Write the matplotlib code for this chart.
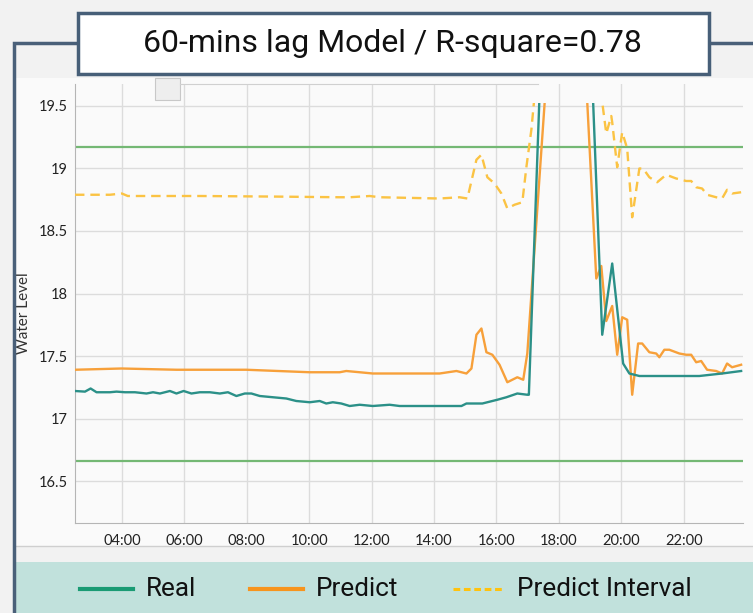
import matplotlib.pyplot as plt
import matplotlib.patches as patches
from matplotlib.lines import Line2D

# ---- data (hours of day / water level) ----
real_t = [2.50, 2.82, 3.00, 3.19, 3.62, 3.83, 4.10, 4.42, 4.79, 5.00, 5.22, 5.54, 5.75,
          5.98, 6.23, 6.50, 6.82, 7.14, 7.40, 7.67, 7.94, 8.15, 8.42, 8.84, 9.27, 9.59,
          10.02, 10.34, 10.55, 10.76, 11.03, 11.30, 11.62, 12.04, 12.58, 12.90, 14.88,
          15.04, 15.55, 16.03, 16.32, 16.67, 16.99, 17.04, 17.54, 18.02, 18.50, 19.01,
          19.39, 19.71, 20.06, 20.26, 20.58, 20.90, 22.50, 23.23, 23.84]
real_v = [17.22, 17.215, 17.24, 17.21, 17.21, 17.215, 17.21, 17.21, 17.20, 17.21, 17.20,
          17.22, 17.20, 17.22, 17.20, 17.21, 17.21, 17.20, 17.21, 17.18, 17.20, 17.20,
          17.18, 17.17, 17.16, 17.14, 17.13, 17.14, 17.12, 17.13, 17.12, 17.10, 17.11,
          17.10, 17.11, 17.10, 17.10, 17.12, 17.12, 17.15, 17.17, 17.20, 17.19, 17.19,
          20.70, 21.00, 21.00, 20.10, 17.67, 18.24, 17.44, 17.36, 17.34, 17.34, 17.34,
          17.36, 17.38]

pred_t = [2.50, 3.99, 5.75, 7.99, 10.02, 10.98, 11.19, 11.62, 12.04, 12.68, 13.75, 14.18,
          14.72, 15.04, 15.20, 15.36, 15.52, 15.68, 15.87, 16.10, 16.35, 16.67, 16.86,
          16.99, 17.76, 18.34, 18.66, 19.20, 19.36, 19.52, 19.71, 19.87, 20.03, 20.19,
          20.35, 20.54, 20.67, 20.90, 21.12, 21.22, 21.38, 21.54, 21.86, 22.08, 22.24,
          22.40, 22.56, 22.75, 23.04, 23.23, 23.39, 23.55, 23.84]
pred_v = [17.39, 17.40, 17.39, 17.39, 17.37, 17.37, 17.38, 17.37, 17.36, 17.36, 17.36,
          17.36, 17.38, 17.36, 17.40, 17.67, 17.72, 17.53, 17.51, 17.43, 17.29, 17.33,
          17.31, 17.52, 20.30, 20.80, 20.75, 18.12, 18.22, 17.78, 17.90, 17.51, 17.81,
          17.79, 17.19, 17.60, 17.60, 17.53, 17.52, 17.49, 17.55, 17.55, 17.52, 17.51,
          17.51, 17.45, 17.46, 17.39, 17.38, 17.36, 17.44, 17.41, 17.43]

intv_t = [2.50, 3.62, 4.00, 4.19, 6.50, 9.06, 10.98, 11.30, 11.94, 12.26, 14.18, 14.82,
          15.07, 15.36, 15.52, 15.71, 15.94, 16.16, 16.35, 16.58, 16.83, 16.96, 17.12,
          17.38, 18.02, 18.98, 19.38, 19.52, 19.68, 19.71, 19.87, 20.03, 20.19, 20.35,
          20.58, 20.70, 20.90, 21.15, 21.44, 21.76, 22.08, 22.24, 22.40, 22.59, 22.75,
          23.04, 23.23, 23.39, 23.55, 23.84]
intv_v = [18.79, 18.79, 18.80, 18.78, 18.78, 18.775, 18.77, 18.77, 18.78, 18.77, 18.76,
          18.77, 18.76, 19.07, 19.11, 18.93, 18.88, 18.80, 18.68, 18.71, 18.73, 19.01,
          19.31, 20.00, 20.60, 20.40, 19.55, 19.28, 19.42, 19.37, 19.01, 19.29, 19.16,
          18.61, 19.00, 19.00, 18.93, 18.89, 18.95, 18.92, 18.90, 18.90, 18.85, 18.84,
          18.79, 18.77, 18.76, 18.83, 18.80, 18.81]

upper_limit = 19.17
lower_limit = 16.66

x_ticks = [4, 6, 8, 10, 12, 14, 16, 18, 20, 22]
x_labels = ['04:00', '06:00', '08:00', '10:00', '12:00', '14:00', '16:00', '18:00', '20:00', '22:00']
y_ticks = [16.5, 17, 17.5, 18, 18.5, 19, 19.5]
y_labels = ['16.5', '17', '17.5', '18', '18.5', '19', '19.5']

title = '60-mins lag Model / R-square=0.78'
series_names = ['Real', 'Predict', 'Predict Interval']

# ---- layout helpers (pixels -> figure fraction) ----
W, H = 753, 613
def fx(x):
    return x / W
def fy(y):
    return 1 - y / H

frame_col = '#4a6079'
c_real = '#2b9088'
c_pred = '#f7a03a'
c_intv = '#fbc343'
c_limit = '#74b874'

fig = plt.figure(figsize=(W / 100, H / 100), dpi=100, facecolor='#f2f2f2')

# white panel behind the chart
fig.add_artist(patches.Rectangle((fx(16), fy(546)), fx(753) - fx(16), fy(78) - fy(546),
                                 transform=fig.transFigure, facecolor='#fafafa',
                                 edgecolor='none', zorder=0))
fig.add_artist(Line2D([fx(16), 1], [fy(546), fy(546)], transform=fig.transFigure,
                      color='#cfcfcf', lw=1, zorder=1))
# little tab artifact
fig.add_artist(patches.Rectangle((fx(155), fy(100)), fx(180) - fx(155), fy(78) - fy(100),
                                 transform=fig.transFigure, facecolor='#eeeeee',
                                 edgecolor='#c8c8c8', lw=0.8, zorder=3))
fig.add_artist(Line2D([fx(180), fx(538)], [fy(84), fy(84)], transform=fig.transFigure,
                      color='#d0d0d0', lw=0.8, zorder=3))

# legend band
fig.add_artist(patches.Rectangle((fx(16), 0), 1 - fx(16), fy(562), transform=fig.transFigure,
                                 facecolor='#c1e1dc', edgecolor='none', zorder=0))

ax = fig.add_axes([fx(75), fy(523), fx(743) - fx(75), fy(84) - fy(523)])
ax.set_facecolor('#fafafa')
ax.set_zorder(2)

clip = patches.Rectangle((2.5, 16.0), 21.4, 19.52 - 16.0, transform=ax.transData)

ax.axhline(upper_limit, color=c_limit, lw=1.6, zorder=2)
ax.axhline(lower_limit, color=c_limit, lw=1.6, zorder=2)
l3, = ax.plot(intv_t, intv_v, color=c_intv, lw=1.7, ls=(0, (4, 2.5)), zorder=3)
l2, = ax.plot(pred_t, pred_v, color=c_pred, lw=1.7, zorder=4)
l1, = ax.plot(real_t, real_v, color=c_real, lw=1.7, zorder=5)
for ln in (l1, l2, l3):
    ln.set_clip_path(clip)

ax.set_xlim(2.5, 23.9)
ax.set_ylim(16.164, 19.676)
ax.set_xticks(x_ticks)
ax.set_xticklabels(x_labels)
ax.set_yticks(y_ticks)
ax.set_yticklabels(y_labels)
ax.tick_params(length=0, labelsize=10.5, labelcolor='#222222')
ax.tick_params(axis='x', pad=8)
ax.tick_params(axis='y', pad=5)
for lab in ax.get_xticklabels() + ax.get_yticklabels():
    lab.set_fontfamily('Lato')
ax.grid(True, color='#dcdcdc', lw=1)
ax.set_axisbelow(True)
for s in ['top', 'right']:
    ax.spines[s].set_visible(False)
for s in ['left', 'bottom']:
    ax.spines[s].set_color('#b5b5b5')
ax.set_ylabel('Water Level', fontsize=11, family='Lato', color='#333333')
ax.yaxis.set_label_coords((31 - 75) / (743 - 75), (523 - 313) / (523 - 84))

# outer frame
fig.add_artist(Line2D([fx(13.5), fx(13.5), fx(77)], [0, fy(43), fy(43)], transform=fig.transFigure,
                      color=frame_col, lw=2.5, zorder=4, solid_joinstyle='miter'))
fig.add_artist(Line2D([fx(710), 1], [fy(43), fy(43)], transform=fig.transFigure,
                      color=frame_col, lw=2.5, zorder=4))

# title box
fig.add_artist(patches.Rectangle((fx(78), fy(74)), fx(709) - fx(78), fy(13) - fy(74),
                                 transform=fig.transFigure, facecolor='white',
                                 edgecolor='#475f78', lw=2.5, zorder=5))
fig.text(fx(392), fy(44), title, ha='center', va='center', fontsize=23,
         family='Roboto', color='#111111', zorder=6)

# legend
leg_y = fy(589)
items = [(80, 133, '#1a9b74', '-', 146, series_names[0]),
         (250, 303, '#f7941d', '-', 316, series_names[1]),
         (453, 502, '#ffc20e', (0, (2.2, 1.2)), 517, series_names[2])]
for x0, x1, col, ls, tx, name in items:
    fig.add_artist(Line2D([fx(x0), fx(x1)], [leg_y, leg_y], transform=fig.transFigure,
                          color=col, lw=3 if ls == '-' else 2.2, ls=ls, zorder=3))
    fig.text(fx(tx), leg_y, name, ha='left', va='center', fontsize=18.8,
             family='Roboto', color='#111111', zorder=3)

fig.savefig('out.png', dpi=100, facecolor=fig.get_facecolor())
